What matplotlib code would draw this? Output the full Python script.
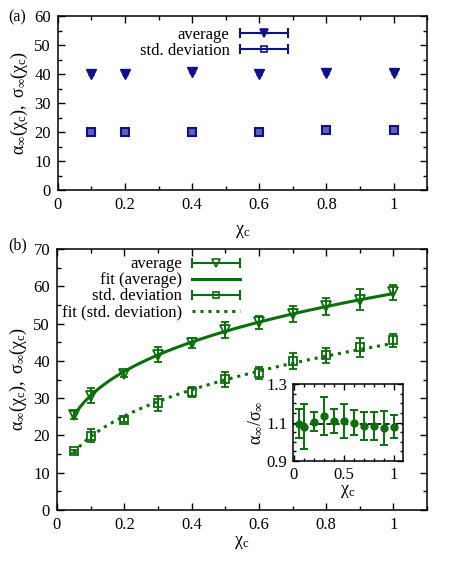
import numpy as np
import matplotlib
matplotlib.use('Agg')
import matplotlib.pyplot as plt
from matplotlib.lines import Line2D
from matplotlib.legend_handler import HandlerLine2D, HandlerTuple
from matplotlib.ticker import MultipleLocator, FixedLocator

plt.rcParams['font.family'] = ['Liberation Serif', 'DejaVu Serif']
plt.rcParams['mathtext.fontset'] = 'custom'
plt.rcParams['mathtext.rm'] = 'Liberation Serif'
plt.rcParams['mathtext.it'] = 'Liberation Serif'
plt.rcParams['font.size'] = 11.5

blue = '#10108c'
green = '#0b6e0b'

# panel (a)
xa = [0.1, 0.2, 0.4, 0.6, 0.8, 1.0]
avg_a = [40.0, 40.0, 40.6, 40.1, 40.3, 40.3]
avg_a_err = [0.3, 0.3, 0.3, 0.3, 0.3, 0.3]
std_a = [20.1, 20.0, 20.0, 20.1, 20.9, 20.9]
std_a_err = [0.3, 0.3, 0.3, 0.3, 0.3, 0.3]

# panel (b)
xb = [0.05, 0.1, 0.2, 0.3, 0.4, 0.5, 0.6, 0.7, 0.8, 0.9, 1.0]
avg_b = [25.5, 30.7, 36.6, 41.6, 44.8, 48.2, 50.3, 52.6, 54.6, 56.4, 58.4]
avg_b_err = [1.0, 1.9, 0.8, 2.0, 1.4, 2.1, 1.7, 2.2, 2.2, 2.8, 2.0]
std_b = [15.7, 19.9, 24.2, 28.6, 31.6, 35.1, 36.7, 39.9, 41.5, 43.6, 45.5]
std_b_err = [0.5, 1.8, 0.7, 2.0, 1.4, 2.0, 1.6, 2.2, 2.0, 2.5, 1.7]

# inset
ratio = [1.093, 1.079, 1.105, 1.134, 1.107, 1.107, 1.098, 1.083, 1.083, 1.072, 1.079]
ratio_err = [0.076, 0.115, 0.05, 0.097, 0.064, 0.087, 0.065, 0.073, 0.073, 0.09, 0.06]
ratio_mean = 1.09
inset_yticks = [0.9, 1.1, 1.3]

ylab = r'$\mathrm{\alpha_{\infty}(\chi_c),\ \sigma_{\infty}(\chi_c)}$'
xlab = r'$\mathrm{\chi_c}$'


def style(ax, xmaj, xmin, ymaj, ymin):
    ax.xaxis.set_major_locator(MultipleLocator(xmaj))
    ax.xaxis.set_minor_locator(MultipleLocator(xmin))
    ax.yaxis.set_major_locator(MultipleLocator(ymaj))
    ax.yaxis.set_minor_locator(MultipleLocator(ymin))
    ax.tick_params(which='both', direction='in', top=True, right=True, width=1)
    ax.tick_params(which='major', length=5, pad=5, labelsize=12)
    ax.tick_params(which='minor', length=3)
    for s in ax.spines.values():
        s.set_linewidth(1.1)
    ax.xaxis.set_major_formatter(plt.FuncFormatter(lambda v, p: ('%g' % v)))


def errhandle(color, marker, mfc, ms):
    caps = Line2D([], [], color=color, lw=1.5, marker='|', ms=7, mew=1.5)
    mk = Line2D([], [], color=color, ls='none', marker=marker, ms=ms, mfc=mfc, mew=1.2)
    return (caps, mk), {caps: HandlerLine2D(numpoints=2, marker_pad=0),
                        mk: HandlerLine2D(numpoints=1)}


fig = plt.figure(figsize=(4.52, 5.66), dpi=100)

# ---- (a)
ax1 = fig.add_axes([0.128, 0.664, 0.817, 0.3075])
ax1.errorbar(xa, avg_a, yerr=avg_a_err, fmt='v', color=blue, ms=7, capsize=2, elinewidth=1)
ax1.errorbar(xa, std_a, yerr=std_a_err, fmt='s', color=blue, ms=5.5, mfc='#6060b8', mew=1.5,
             capsize=2, elinewidth=1)
ax1.set_xlim(0, 1.1)
ax1.set_ylim(0, 60)
style(ax1, 0.2, 0.1, 10, 5)
ax1.set_xlabel(xlab, fontsize=13, labelpad=7)
ax1.set_ylabel(ylab, fontsize=13, labelpad=3)
h1, m1 = errhandle(blue, 'v', blue, 5.5)
h2, m2 = errhandle(blue, 's', 'none', 4.5)
m1.update(m2)
ax1.legend([h1, h2], ['average', 'std. deviation'], handler_map={tuple: HandlerTuple(ndivide=1), **m1},
           loc='upper right', bbox_to_anchor=(0.623, 0.94), frameon=False, markerfirst=False,
           borderpad=0, borderaxespad=0, handlelength=2.9, handletextpad=0.6, labelspacing=0.0,
           fontsize=12)
fig.text(0.018, 0.984, '(a)', fontsize=11.5, va='top')

# ---- (b)
ax2 = fig.add_axes([0.126, 0.099, 0.819, 0.461])
ax2.errorbar(xb, avg_b, yerr=avg_b_err, fmt='v', color=green, ms=6.5, mfc='none', mew=1.3,
             capsize=3, elinewidth=1.4, capthick=1.4)
ax2.errorbar(xb, std_b, yerr=std_b_err, fmt='s', color=green, ms=5.5, mfc='none', mew=1.3,
             capsize=3, elinewidth=1.4, capthick=1.4)

# power-law fits through the data
xf = np.linspace(min(xb), max(xb), 200)
pa = np.polyfit(np.log(xb), np.log(avg_b), 1)
ps = np.polyfit(np.log(xb), np.log(std_b), 1)
ax2.plot(xf, np.exp(np.polyval(pa, np.log(xf))), color=green, lw=2.2)
ax2.plot(xf, np.exp(np.polyval(ps, np.log(xf))), color=green, lw=2.2, ls=(0, (1, 1.6)))

ax2.set_xlim(0, 1.1)
ax2.set_ylim(0, 70)
style(ax2, 0.2, 0.1, 10, 5)
ax2.set_xlabel(xlab, fontsize=13, labelpad=1)
ax2.set_ylabel(ylab, fontsize=13, labelpad=3)

h3, m3 = errhandle(green, 'v', 'none', 5.5)
h4, m4 = errhandle(green, 's', 'none', 4.5)
m3.update(m4)
fa = Line2D([], [], color=green, lw=2.2)
fs = Line2D([], [], color=green, lw=2.2, ls=(0, (1, 1.6)))
ax2.legend([h3, fa, h4, fs], ['average', 'fit (average)', 'std. deviation', 'fit (std. deviation)'],
           handler_map={tuple: HandlerTuple(ndivide=1), **m3},
           loc='upper right', bbox_to_anchor=(0.495, 0.972), frameon=False, markerfirst=False,
           borderpad=0, borderaxespad=0, handlelength=2.9, handletextpad=0.6, labelspacing=0.0,
           fontsize=12)
fig.text(0.018, 0.581, '(b)', fontsize=11.5, va='top')

# ---- inset
ax3 = fig.add_axes([0.648, 0.1855, 0.243, 0.136])
ax3.axhline(ratio_mean, color='black', lw=1.2, ls=(0, (3, 2)))
ax3.errorbar(xb, ratio, yerr=ratio_err, fmt='o', color=green, ms=5, capsize=3,
             elinewidth=1.4, capthick=1.4)
ax3.set_xlim(-0.01, 1.09)
ax3.set_ylim(0.9, 1.3)
style(ax3, 0.5, 0.1, 0.2, 0.05)
ax3.yaxis.set_major_locator(FixedLocator(inset_yticks))
ax3.tick_params(which='major', length=4, pad=4)
ax3.tick_params(which='minor', length=2.5)
ax3.set_xlabel(xlab, fontsize=13, labelpad=0)
ax3.set_ylabel(r'$\mathrm{\alpha_{\infty}/\sigma_{\infty}}$', fontsize=13, labelpad=1)

fig.savefig('out.png', dpi=100)
